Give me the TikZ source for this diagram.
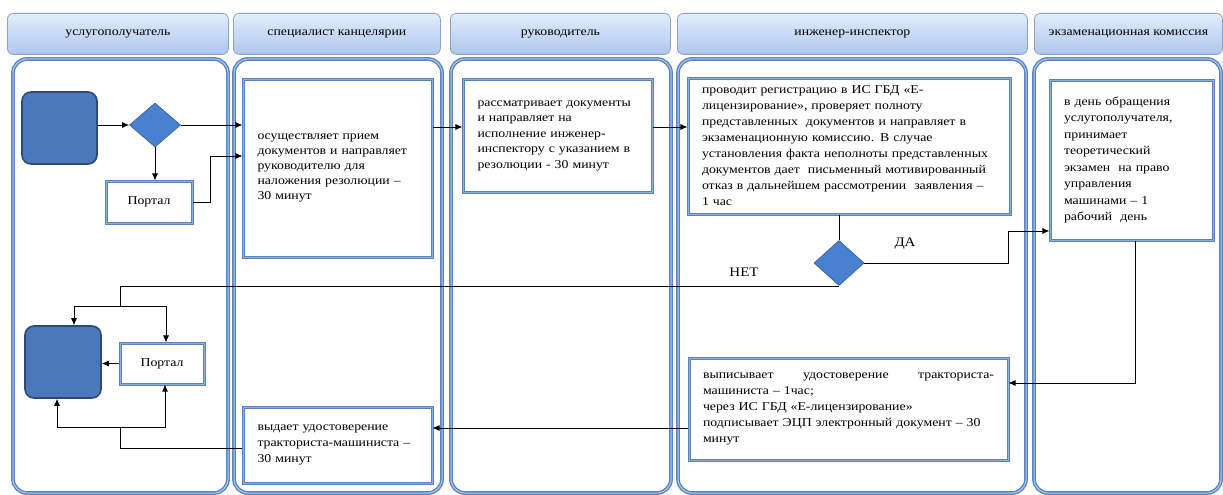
\documentclass[tikz,border=0pt]{standalone}
\usepackage{fontspec}
\setmainfont{Liberation Serif}[FakeStretch=1.15]
\usetikzlibrary{arrows.meta,shapes.geometric,calc}
\definecolor{hdrtop}{HTML}{E2EDFC}
\definecolor{hdrbot}{HTML}{AFC6EE}
\definecolor{hdrline}{HTML}{8AA2C4}
\definecolor{lanec}{HTML}{5A84C2}
\definecolor{lanein}{HTML}{B4CBEA}
\definecolor{boxc}{HTML}{5A82BE}
\definecolor{boxin}{HTML}{8FAEDB}
\definecolor{termfill}{HTML}{4C78BA}
\definecolor{termline}{HTML}{2B4A78}
\definecolor{dfill}{HTML}{4A80D0}
\definecolor{dline}{HTML}{3A66A8}
\tikzset{
  hdr/.style={draw=hdrline, line width=0.8pt, rounded corners=6pt, top color=hdrtop, bottom color=hdrbot,
              font=\fontsize{12}{14}\selectfont, anchor=north west, inner sep=0pt},
  lane/.style={draw=lanec, line width=1.4pt, double=lanein, double distance=1pt, rounded corners=14pt},
  tbox/.style={draw=boxc, line width=1.1pt, double=boxin, double distance=0.8pt, fill=white, align=left, inner xsep=14pt,
               font=\fontsize{12}{15}\selectfont},
  term/.style={draw=termline, line width=1.6pt, fill=termfill, rounded corners=9pt},
  dec/.style={diamond, draw=dline, line width=0.8pt, fill=dfill, inner sep=0pt},
  portal/.style={draw=boxc, line width=1.1pt, double=boxin, double distance=0.8pt, fill=white, font=\fontsize{12}{14}\selectfont},
  lbl/.style={font=\fontsize{13}{15}\selectfont},
  arr/.style={line width=0.8pt, -{Latex[length=7pt,width=6pt]}},
  ln/.style={line width=0.8pt}
}
\begin{document}
\begin{tikzpicture}[x=1pt,y=-1pt]
\useasboundingbox (0,0) rectangle (1223,495);
% headers
\node[hdr, minimum width=221pt, minimum height=41pt] (h1) at (7,13) {услугополучатель};
\node[hdr, minimum width=207pt, minimum height=41pt] (h2) at (233,13) {специалист канцелярии};
\node[hdr, minimum width=220pt, minimum height=41pt] (h3) at (450,13) {руководитель};
\node[hdr, minimum width=350pt, minimum height=41pt] (h4) at (677,13) {инженер-инспектор};
\node[hdr, minimum width=188pt, minimum height=41pt] (h5) at (1034,13) {экзаменационная комиссия};
% lanes
\draw[lane] (13,59) rectangle (228,493);
\draw[lane] (234,59) rectangle (442,493);
\draw[lane] (451,59) rectangle (671,493);
\draw[lane] (678,59) rectangle (1026,493);
\draw[lane] (1034,59) rectangle (1221,493);
% nodes
\node[term, minimum width=75pt, minimum height=72pt] (start) at (59.5,128) {};
\node[dec, minimum width=51pt, minimum height=44pt] (d1) at (155,125) {};
\node[portal, minimum width=86pt, minimum height=42pt] (p1) at (149,202) {Портал};
\node[tbox, text width=160pt, minimum width=189pt, minimum height=178pt] (b2) at (337.5,168)
 {осуществляет прием\\документов и направляет\\руководителю для\\наложения резолюции –\\30 минут};
\node[tbox, text width=160pt, minimum width=189pt, minimum height=113pt, font=\fontsize{12}{15.5}\selectfont] (b3) at (557.5,135.5)
 {рассматривает документы\\и направляет на\\исполнение инженер-\\инспектору с указанием в\\резолюции - 30 минут};
\node[tbox, text width=294pt, minimum width=322pt, minimum height=136pt, font=\fontsize{12}{16}\selectfont] (b4) at (849,146)
 {проводит регистрацию в ИС ГБД «Е-\\лицензирование», проверяет полноту\\представленных\ \ документов и направляет в\\экзаменационную комиссию. В случае\\установления факта неполноты представленных\\документов дает\ \ письменный мотивированный\\отказ в дальнейшем рассмотрении\ \ заявления –\\1 час};
\node[dec, minimum width=50pt, minimum height=45pt] (d2) at (839,263) {};
\node[tbox, text width=135pt, minimum width=163pt, minimum height=160pt, font=\fontsize{12}{16.5}\selectfont] (b5) at (1131.5,160)
 {в день обращения\\услугополучателя,\\принимает\\теоретический\\экзамен\ \ на право\\управления\\машинами – 1\\рабочий\ \ день};
\node[term, minimum width=76pt, minimum height=72pt] (end) at (63,362) {};
\node[portal, minimum width=84pt, minimum height=41pt] (p2) at (162,363.5) {Портал};
\node[tbox, text width=160pt, minimum width=189pt, minimum height=76pt, font=\fontsize{12}{16}\selectfont] (b6) at (337.5,445)
 {выдает удостоверение\\тракториста-машиниста –\\30 минут};
\node[tbox, text width=291pt, minimum width=319pt, minimum height=102pt, font=\fontsize{12}{16}\selectfont] (b7) at (848.5,409)
 {выписывает\hfill удостоверение\hfill тракториста-\\машиниста – 1час;\\через ИС ГБД «Е-лицензирование»\\подписывает ЭЦП электронный документ – 30\\минут};
% labels
\node[lbl] (da) at (905,244) {ДА};
\node[lbl] (net) at (744,272) {НЕТ};
% connectors
\coordinate (n1) at (120,306);
\coordinate (n2) at (120,427);
\draw[arr] (d1.west -| start.east) -- (d1.west);
\draw[arr] (d1.east) -- (d1.east -| b2.west);
\draw[arr] (d1.south) -- (d1.south |- p1.north);
\draw[arr] (p1.east) -- ++(18,0) |- ([yshift=12pt]b2.west);
\draw[arr] ([yshift=8.5pt]b3.west -| b2.east) -- ([yshift=8.5pt]b3.west);
\draw[arr] ([yshift=19pt]b4.west -| b3.east) -- ([yshift=19pt]b4.west);
\draw[ln] (d2.north |- b4.south) -- (d2.north);
\draw[arr] (d2.east) -- (1008,263) |- ([yshift=-71pt]b5.west);
\draw[ln] (d2.south) -| (n1);
\draw[arr] (n1) -| ([xshift=11pt]end.north);
\draw[arr] (n1) -| ([xshift=4pt]p2.north);
\draw[arr] (p2.west) -- (p2.west -| end.east);
\draw[arr] ([xshift=3.5pt]b5.south) |- ([yshift=26pt]b7.east);
\draw[arr] ([yshift=-19pt]b7.west) -- ([yshift=-19pt]b7.west -| b6.east);
\draw[ln] ([yshift=-3pt]b6.west) -| (n2);
\draw[arr] (n2) -| ([xshift=-6pt]end.south);
\draw[arr] (n2) -| ([xshift=3pt]p2.south);
\end{tikzpicture}
\end{document}
